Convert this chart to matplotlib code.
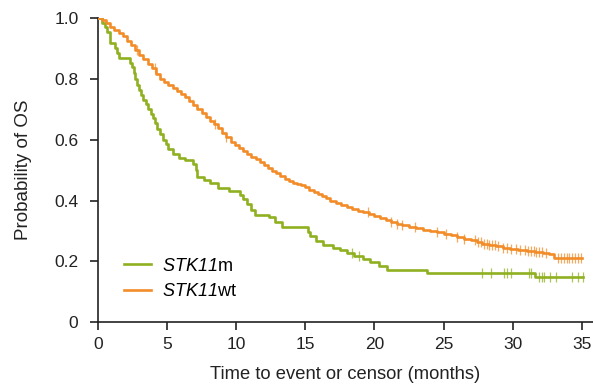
import numpy as np
import matplotlib
matplotlib.use("Agg")
import matplotlib.pyplot as plt

plt.rcParams["font.family"] = ["Liberation Sans", "DejaVu Sans"]
# gene symbols are set in italics (letters and digits alike)
plt.rcParams["mathtext.fontset"] = "custom"
plt.rcParams["mathtext.it"] = "Liberation Sans:italic"
plt.rcParams["mathtext.rm"] = "Liberation Sans:italic"

# Kaplan-Meier step data: event times (months) and survival after each step
mut_times = [0.0, 0.3, 0.5, 0.65, 0.85, 1.25, 1.4, 1.5, 2.35, 2.5, 2.6, 2.7, 2.8,
             2.95, 3.1, 3.25, 3.45, 3.6, 3.85, 4.0, 4.15, 4.3, 4.5, 4.7, 4.9, 5.1,
             5.4, 5.9, 6.3, 6.9, 7.1, 7.2, 7.7, 8.1, 8.7, 9.5, 10.3, 10.5, 10.8,
             11.1, 11.35, 12.4, 12.8, 13.3, 15.2, 15.35, 15.8, 16.3, 17.0, 17.5,
             18.0, 18.5, 19.2, 19.7, 20.3, 20.9, 23.8, 31.6, 35.1]
mut_surv = [1.0, 0.985, 0.97, 0.955, 0.918, 0.90, 0.885, 0.868, 0.853, 0.838, 0.82,
            0.80, 0.78, 0.765, 0.748, 0.732, 0.716, 0.70, 0.685, 0.67, 0.654, 0.635,
            0.62, 0.60, 0.585, 0.568, 0.553, 0.54, 0.532, 0.52, 0.50, 0.478, 0.466,
            0.456, 0.44, 0.432, 0.418, 0.405, 0.39, 0.37, 0.352, 0.345, 0.33, 0.313,
            0.298, 0.282, 0.268, 0.254, 0.245, 0.237, 0.228, 0.218, 0.207, 0.197,
            0.185, 0.171, 0.163, 0.147, 0.147]
mut_censor = [18.4, 18.9, 27.8, 28.4, 29.4, 29.6, 29.9, 31.2, 31.35, 31.9, 32.1,
              32.25, 32.7, 33.1, 34.3, 34.7, 35.1]

wt_times = [0.0, 0.3, 0.6, 0.9, 1.2, 1.5, 1.8, 2.1, 2.4, 2.7, 3.0, 3.3, 3.6, 3.9,
            4.2, 4.5, 4.8, 5.1, 5.4, 5.7, 6.0, 6.3, 6.6, 6.9, 7.2, 7.5, 7.8, 8.1,
            8.4, 8.7, 9.0, 9.3, 9.6, 9.9, 10.2, 10.5, 10.8, 11.1, 11.4, 11.7, 12.0,
            12.3, 12.6, 12.9, 13.2, 13.5, 13.8, 14.1, 14.4, 14.7, 15.0, 15.3, 15.6,
            15.9, 16.2, 16.5, 16.8, 17.2, 17.6, 18.0, 18.4, 18.8, 19.2, 19.6, 20.0,
            20.4, 20.8, 21.2, 21.6, 22.0, 22.5, 23.0, 23.5, 24.0, 24.5, 25.0, 25.5,
            26.0, 26.5, 27.0, 27.4, 27.8, 28.3, 28.8, 29.3, 29.8, 30.4, 31.0, 31.6,
            32.2, 32.6, 33.0, 35.0]
wt_surv = [1.0, 0.992, 0.983, 0.972, 0.962, 0.95, 0.94, 0.925, 0.91, 0.895, 0.877,
           0.865, 0.85, 0.835, 0.815, 0.80, 0.79, 0.78, 0.77, 0.76, 0.75, 0.74,
           0.728, 0.715, 0.70, 0.688, 0.675, 0.663, 0.65, 0.637, 0.622, 0.608,
           0.594, 0.582, 0.572, 0.562, 0.552, 0.543, 0.535, 0.526, 0.517, 0.508,
           0.498, 0.489, 0.48, 0.472, 0.463, 0.458, 0.454, 0.45, 0.443, 0.435,
           0.428, 0.421, 0.415, 0.408, 0.40, 0.393, 0.386, 0.379, 0.373, 0.367,
           0.361, 0.355, 0.349, 0.343, 0.336, 0.329, 0.323, 0.318, 0.313, 0.309,
           0.304, 0.299, 0.295, 0.291, 0.287, 0.281, 0.275, 0.269, 0.262, 0.257,
           0.253, 0.249, 0.245, 0.241, 0.237, 0.234, 0.231, 0.228, 0.225, 0.21, 0.21]
wt_censor = [2.8, 4.1, 8.5, 9.3, 19.5, 21.2, 21.6, 22.0, 22.9, 24.5, 25.2, 26.0,
             26.5, 27.3, 27.5, 27.7, 27.9, 28.1, 28.3, 28.5, 28.7, 28.9, 29.3, 29.6,
             29.9, 30.2, 30.5, 30.9, 31.1, 31.3, 31.5, 31.7, 31.9, 32.1, 32.4, 33.3,
             33.5, 33.7, 33.9, 34.1, 34.3, 34.5, 34.7, 34.9]

labels = [r"$STK11$m", r"$STK11$wt"]
colors = ["#8fb020", "#f28c28"]

x_ticks = [0, 5, 10, 15, 20, 25, 30, 35]
y_ticks = [0, 0.2, 0.4, 0.6, 0.8, 1.0]
y_ticklabels = ["0", "0.2", "0.4", "0.6", "0.8", "1.0"]

fig = plt.figure(figsize=(5.93, 3.84), dpi=100)
ax = fig.add_axes([0.165, 0.161, 0.835, 0.792])


def surv_at(times, surv, t):
    idx = np.searchsorted(times, t, side="right") - 1
    return np.asarray(surv)[idx]


series = [(mut_times, mut_surv, mut_censor), (wt_times, wt_surv, wt_censor)]
for (t, s, c), lab, col in zip(series, labels, colors):
    ax.step(t, s, where="post", color=col, lw=1.9, label=lab, zorder=3)
    ax.plot(c, surv_at(t, s, c), linestyle="none", marker="|", markersize=7,
            markeredgewidth=0.9, color=col, alpha=0.75, zorder=3)

ax.set_xlim(0, 35.8)
ax.set_ylim(0, 1.0)
ax.set_xticks(x_ticks)
ax.set_yticks(y_ticks)
ax.set_yticklabels(y_ticklabels)
ax.tick_params(direction="out", length=6, width=1.2, labelsize=12.5,
               colors="#222222")
ax.tick_params(axis="x", pad=5)
ax.tick_params(axis="y", pad=8)
for side in ("top", "right"):
    ax.spines[side].set_visible(False)
for side in ("left", "bottom"):
    ax.spines[side].set_linewidth(1.2)
    ax.spines[side].set_color("#222222")

ax.set_xlabel("Time to event or censor (months)", fontsize=13.2, color="#222222",
              labelpad=10)
ax.set_ylabel("Probability of OS", fontsize=13.5, color="#222222", labelpad=16)

ax.legend(loc="lower left", bbox_to_anchor=(0.02, 0.02), frameon=False,
          fontsize=13, handlelength=1.5, handletextpad=0.6, labelspacing=0.45)

fig.savefig("out.png", dpi=100)
